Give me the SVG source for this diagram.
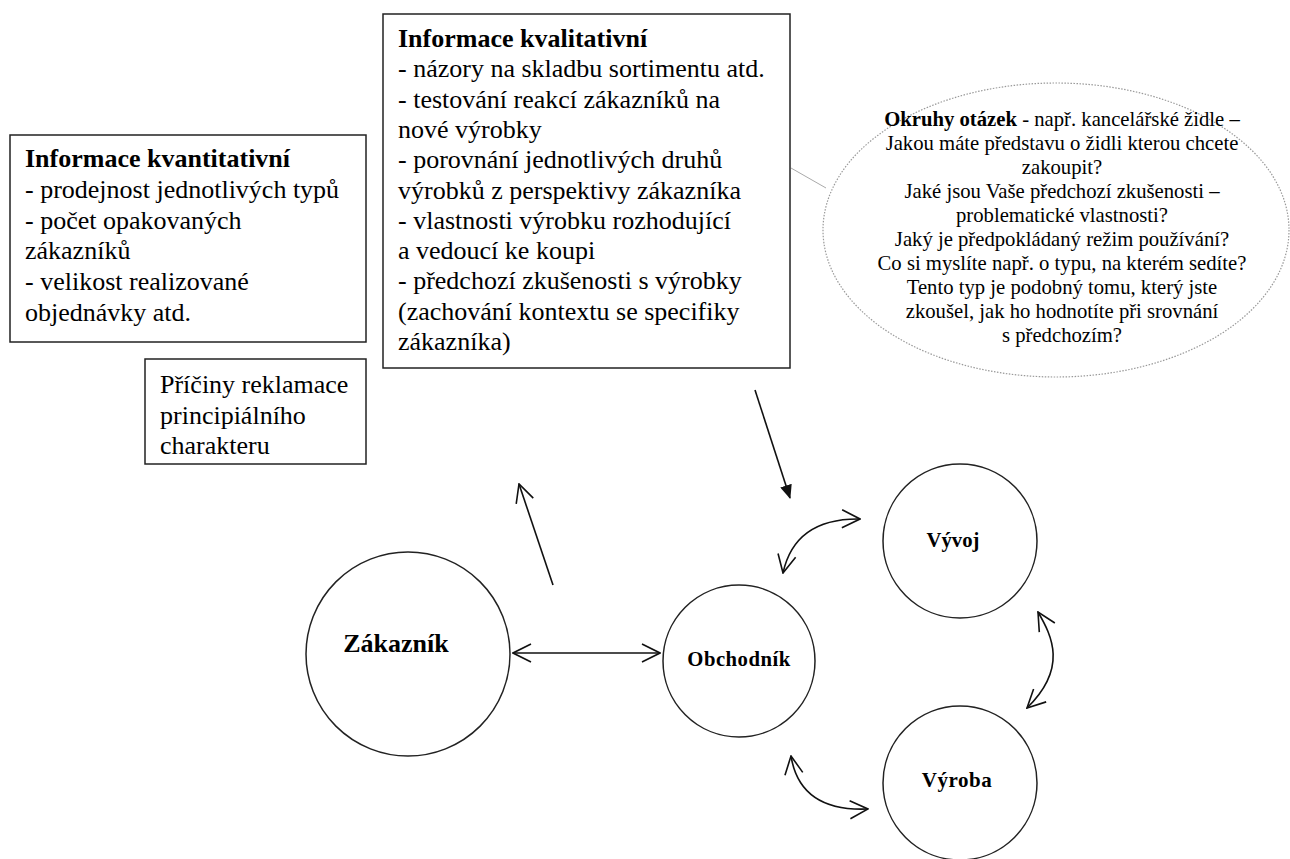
<svg xmlns="http://www.w3.org/2000/svg" width="1290" height="859" viewBox="0 0 1290 859">
<style>
.box{fill:#fff;stroke:#222;stroke-width:1.5}
.circ{fill:#fff;stroke:#222;stroke-width:1.5}
.t{font-family:"Liberation Serif","Times New Roman",serif;font-size:26px;fill:#000}
.e{font-family:"Liberation Serif","Times New Roman",serif;font-size:20.7px;fill:#000;text-anchor:middle}
.b{font-weight:bold}
.lbl{font-family:"Liberation Serif","Times New Roman",serif;font-weight:bold;fill:#000;text-anchor:middle}
.c{fill:none;stroke:#111;stroke-width:1.6}
</style>
<defs>
<marker id="open" viewBox="0 0 20 20" refX="19" refY="10" markerWidth="20" markerHeight="20" markerUnits="userSpaceOnUse" orient="auto-start-reverse">
<path d="M1,1 L19,10 L1,19" fill="none" stroke="#111" stroke-width="1.6"/>
</marker>
<marker id="fill" viewBox="0 0 14 12" refX="13" refY="6" markerWidth="14" markerHeight="12" markerUnits="userSpaceOnUse" orient="auto">
<path d="M0,0 L14,6 L0,12 z" fill="#111"/>
</marker>
</defs>
<g id="kvantitativni">
<rect class="box" x="10" y="135" width="356" height="207"/>
<text class="t" x="25" y="167"><tspan class="b">Informace kvantitativní</tspan><tspan x="25" dy="30.8">- prodejnost jednotlivých typů</tspan><tspan x="25" dy="30.8">- počet opakovaných</tspan><tspan x="25" dy="30.8">zákazníků</tspan><tspan x="25" dy="30.8">- velikost realizované</tspan><tspan x="25" dy="30.8">objednávky atd.</tspan></text>
</g>
<g id="kvalitativni">
<rect class="box" x="383" y="14" width="407" height="354"/>
<text class="t" x="398" y="47"><tspan class="b">Informace kvalitativní</tspan><tspan x="398" dy="30.3">- názory na skladbu sortimentu atd.</tspan><tspan x="398" dy="30.3">- testování reakcí zákazníků na</tspan><tspan x="398" dy="30.3">nové výrobky</tspan><tspan x="398" dy="30.3">- porovnání jednotlivých druhů</tspan><tspan x="398" dy="30.3">výrobků z perspektivy zákazníka</tspan><tspan x="398" dy="30.3">- vlastnosti výrobku rozhodující</tspan><tspan x="398" dy="30.3">a vedoucí ke koupi</tspan><tspan x="398" dy="30.3">- předchozí zkušenosti s výrobky</tspan><tspan x="398" dy="30.3">(zachování kontextu se specifiky</tspan><tspan x="398" dy="30.3">zákazníka)</tspan></text>
</g>
<g id="priciny">
<rect class="box" x="145" y="359" width="221" height="105"/>
<text class="t" x="160" y="393"><tspan>Příčiny reklamace</tspan><tspan x="160" dy="30.5">principiálního</tspan><tspan x="160" dy="30.5">charakteru</tspan></text>
</g>
<g id="okruhy">
<line x1="791" y1="168" x2="826" y2="188" stroke="#aaa" stroke-width="1"/>
<ellipse cx="1056" cy="230" rx="233" ry="147" fill="#fff" stroke="#999" stroke-width="1.2" stroke-dasharray="1.5,1.5"/>
<text class="e" x="1062" y="126"><tspan class="b">Okruhy otázek</tspan> - např. kancelářské židle –</text>
<text class="e" x="1062" y="150">Jakou máte představu o židli kterou chcete</text>
<text class="e" x="1062" y="174">zakoupit?</text>
<text class="e" x="1062" y="198">Jaké jsou Vaše předchozí zkušenosti –</text>
<text class="e" x="1062" y="222">problematické vlastnosti?</text>
<text class="e" x="1062" y="246">Jaký je předpokládaný režim používání?</text>
<text class="e" x="1062" y="270">Co si myslíte např. o typu, na kterém sedíte?</text>
<text class="e" x="1062" y="294">Tento typ je podobný tomu, který jste</text>
<text class="e" x="1062" y="318">zkoušel, jak ho hodnotíte při srovnání</text>
<text class="e" x="1062" y="342">s předchozím?</text>
</g>
<g id="zakaznik">
<circle class="circ" cx="408" cy="654" r="102"/>
<text class="lbl" x="396" y="652" font-size="26">Zákazník</text>
</g>
<g id="obchodnik">
<circle class="circ" cx="739" cy="661" r="76"/>
<text class="lbl" x="739" y="666" font-size="20.7" letter-spacing="0.5">Obchodník</text>
</g>
<g id="vyvoj">
<circle class="circ" cx="960" cy="541" r="77"/>
<text class="lbl" x="953" y="547" font-size="20.7">Vývoj</text>
</g>
<g id="vyroba">
<circle class="circ" cx="960" cy="783" r="77"/>
<text class="lbl" x="957" y="787" font-size="21" letter-spacing="0.5">Výroba</text>
</g>
<g id="connectors">
<path class="c" d="M513,653 L660,653" marker-start="url(#open)" marker-end="url(#open)"/>
<path class="c" d="M553,585 L519,484" marker-end="url(#open)"/>
<path class="c" d="M755,390 L790,498" marker-end="url(#fill)" stroke-width="1.4"/>
<path class="c" d="M783,573 Q795,518 860,519" marker-start="url(#open)" marker-end="url(#open)"/>
<path class="c" d="M1038,612 C1052,636 1068,668 1027,708" marker-start="url(#open)" marker-end="url(#open)"/>
<path class="c" d="M791,756 Q800,812 868,809" marker-start="url(#open)" marker-end="url(#open)"/>
</g>
</svg>
